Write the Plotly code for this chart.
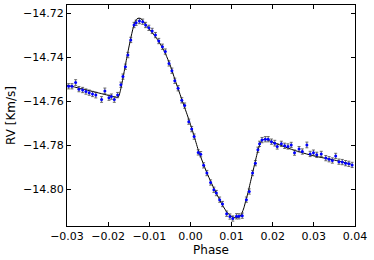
import plotly.graph_objects as go

# Observed RVs
phase = [-0.0296, -0.0288, -0.0279, -0.0271, -0.0262, -0.0254, -0.0246, -0.0238, -0.0230, -0.0216,
         -0.0208, -0.0198, -0.0192, -0.0185, -0.0177, -0.0169, -0.0164, -0.0158, -0.0152, -0.0145,
         -0.0137, -0.0132, -0.0124, -0.0116, -0.0109, -0.0101, -0.0093, -0.0085, -0.0077, -0.0068,
         -0.0061, -0.0052, -0.0045, -0.0038, -0.0030, -0.0021, -0.0014, -0.0004, 0.0003, 0.0009,
         0.0019, 0.0025, 0.0032, 0.0040, 0.0049, 0.0057, 0.0063, 0.0071, 0.0078, 0.0088,
         0.0096, 0.0103, 0.0112, 0.0118, 0.0126, 0.0136, 0.0143, 0.0151, 0.0158, 0.0164,
         0.0168, 0.0174, 0.0182, 0.0189, 0.0197, 0.0205, 0.0211, 0.0221, 0.0229, 0.0237,
         0.0245, 0.0253, 0.0264, 0.0272, 0.0283, 0.0291, 0.0299, 0.0307, 0.0318, 0.0329,
         0.0337, 0.0345, 0.0353, 0.0361, 0.0369, 0.0377, 0.0385, 0.0393]
rv = [-14.7532, -14.7532, -14.7515, -14.7545, -14.7549, -14.7556, -14.7561, -14.7567, -14.7572, -14.7592,
      -14.7553, -14.7584, -14.7579, -14.7592, -14.7572, -14.7525, -14.7488, -14.7443, -14.7390, -14.7321,
      -14.7253, -14.7243, -14.7235, -14.7238, -14.7253, -14.7266, -14.7280, -14.7299, -14.7326, -14.7352,
      -14.7374, -14.7428, -14.7461, -14.7507, -14.7541, -14.7596, -14.7620, -14.7693, -14.7727, -14.7761,
      -14.7833, -14.7841, -14.7892, -14.7927, -14.7970, -14.8003, -14.8018, -14.8048, -14.8068, -14.8112,
      -14.8125, -14.8134, -14.8124, -14.8124, -14.8121, -14.8048, -14.8011, -14.7927, -14.7882, -14.7821,
      -14.7794, -14.7777, -14.7773, -14.7773, -14.7784, -14.7791, -14.7806, -14.7794, -14.7803, -14.7806,
      -14.7799, -14.7834, -14.7818, -14.7829, -14.7799, -14.7840, -14.7834, -14.7844, -14.7840, -14.7859,
      -14.7864, -14.7870, -14.7849, -14.7875, -14.7877, -14.7882, -14.7885, -14.7890]
rv_err = [0.0012, 0.0012, 0.0013, 0.0012, 0.0012, 0.0012, 0.0012, 0.0012, 0.0013, 0.0013,
          0.0013, 0.0012, 0.0012, 0.0013, 0.0012, 0.0012, 0.0012, 0.0012, 0.0012, 0.0012,
          0.0012, 0.0012, 0.0012, 0.0012, 0.0012, 0.0012, 0.0012, 0.0012, 0.0012, 0.0012,
          0.0012, 0.0012, 0.0012, 0.0012, 0.0012, 0.0012, 0.0012, 0.0012, 0.0012, 0.0012,
          0.0012, 0.0012, 0.0012, 0.0012, 0.0012, 0.0012, 0.0012, 0.0012, 0.0012, 0.0012,
          0.0012, 0.0012, 0.0012, 0.0012, 0.0012, 0.0012, 0.0012, 0.0012, 0.0012, 0.0012,
          0.0012, 0.0012, 0.0012, 0.0012, 0.0012, 0.0013, 0.0012, 0.0012, 0.0012, 0.0012,
          0.0012, 0.0012, 0.0012, 0.0012, 0.0013, 0.0012, 0.0012, 0.0012, 0.0012, 0.0012,
          0.0012, 0.0012, 0.0012, 0.0012, 0.0012, 0.0012, 0.0012, 0.0012]

# Model curve
model_phase = [-0.0300, -0.0250, -0.0200, -0.0180, -0.0175, -0.0170, -0.0165, -0.0160, -0.0155, -0.0150,
               -0.0145, -0.0140, -0.0135, -0.0130, -0.0125, -0.0120, -0.0115, -0.0110, -0.0100, -0.0090,
               -0.0080, -0.0070, -0.0060, -0.0050, -0.0040, -0.0030, -0.0020, -0.0010, 0.0000, 0.0010,
               0.0020, 0.0030, 0.0040, 0.0050, 0.0060, 0.0070, 0.0080, 0.0090, 0.0100, 0.0110,
               0.0120, 0.0125, 0.0130, 0.0135, 0.0140, 0.0145, 0.0150, 0.0155, 0.0160, 0.0165,
               0.0170, 0.0175, 0.0180, 0.0185, 0.0190, 0.0200, 0.0250, 0.0300, 0.0350, 0.0390]
model_rv = [-14.7527, -14.7550, -14.7573, -14.7582, -14.7580, -14.7550, -14.7505, -14.7455, -14.7405, -14.7358,
            -14.7313, -14.7272, -14.7240, -14.7225, -14.7222, -14.7225, -14.7235, -14.7248, -14.7272, -14.7295,
            -14.7320, -14.7350, -14.7387, -14.7432, -14.7488, -14.7543, -14.7597, -14.7650, -14.7705, -14.7765,
            -14.7828, -14.7878, -14.7926, -14.7968, -14.8008, -14.8045, -14.8080, -14.8108, -14.8125, -14.8130,
            -14.8125, -14.8110, -14.8085, -14.8050, -14.8015, -14.7975, -14.7935, -14.7895, -14.7855, -14.7818,
            -14.7790, -14.7777, -14.7773, -14.7774, -14.7778, -14.7786, -14.7822, -14.7849, -14.7868, -14.7886]

x_ticks = [-0.03, -0.02, -0.01, 0.00, 0.01, 0.02, 0.03, 0.04]
x_ticklabels = ["\u22120.03", "\u22120.02", "\u22120.01", "0.00", "0.01", "0.02", "0.03", "0.04"]
y_ticks = [-14.80, -14.78, -14.76, -14.74, -14.72]
y_ticklabels = ["\u221214.80", "\u221214.78", "\u221214.76", "\u221214.74", "\u221214.72"]

fig = go.Figure()
fig.add_trace(go.Scatter(x=model_phase, y=model_rv, mode="lines",
                         line=dict(color="black", width=1, shape="spline", smoothing=0.6),
                         hoverinfo="skip", showlegend=False))
fig.add_trace(go.Scatter(x=phase, y=rv, mode="markers",
                         marker=dict(color="#0000ff", size=3),
                         error_y=dict(type="data", array=rv_err, color="#333333", thickness=0.7, width=1.5),
                         showlegend=False))

font = "DejaVu Sans, sans-serif"
axis_common = dict(showline=True, linecolor="black", linewidth=1, mirror="allticks",
                   ticks="inside", ticklen=4, tickcolor="black", tickwidth=1,
                   showgrid=False, zeroline=False,
                   tickfont=dict(family=font, size=11, color="black"))
fig.update_xaxes(range=[-0.03, 0.04], tickvals=x_ticks, ticktext=x_ticklabels,
                 title=dict(text="Phase", font=dict(family=font, size=12, color="black"), standoff=2),
                 **axis_common)
fig.update_yaxes(range=[-14.8168, -14.7162], tickvals=y_ticks, ticktext=y_ticklabels,
                 title=dict(text="RV [Km/s]", font=dict(family=font, size=12, color="black"), standoff=4),
                 **axis_common)
fig.update_layout(width=374, height=260, margin=dict(l=67, r=19, t=5, b=34),
                  paper_bgcolor="white", plot_bgcolor="white")
fig.write_html("out.html", config={"displayModeBar": False},
               post_script="document.body.style.margin='0';document.body.style.overflow='hidden';")
